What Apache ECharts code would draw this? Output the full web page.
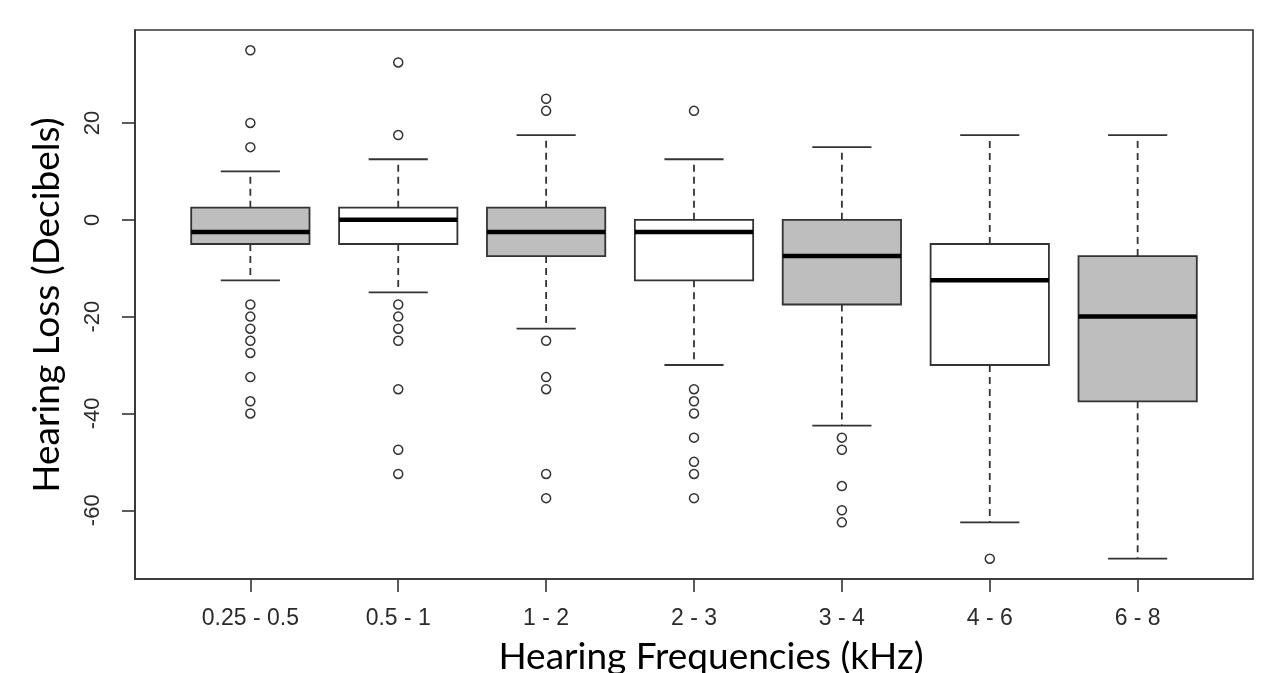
<!DOCTYPE html>
<html>
<head>
  <meta charset="utf-8">
  <script src="https://cdn.jsdelivr.net/npm/echarts@6/dist/echarts.min.js"></script>
  <style>
    html, body { margin: 0; padding: 0; background: #fff; }
  </style>
</head>
<body>
<div id="main" style="width:1263px;height:673px;"></div>
<script type="text/javascript">
// frequency bands on the x axis
var categories = ['0.25 - 0.5', '0.5 - 1', '1 - 2', '2 - 3', '3 - 4', '4 - 6', '6 - 8'];

// box statistics, one value per band
var lowerWhisker = [-12.5, -15, -22.5, -30, -42.5, -62.5, -70];
var lowerQuartile = [-5, -5, -7.5, -12.5, -17.5, -30, -37.5];
var medians = [-2.5, 0, -2.5, -2.5, -7.5, -12.5, -20];
var upperQuartile = [2.5, 2.5, 2.5, 0, 0, -5, -7.5];
var upperWhisker = [10, 12.5, 17.5, 12.5, 15, 17.5, 17.5];

// outliers per band
var outliers = [
  [35, 20, 15, -17.5, -20, -22.5, -25, -27.5, -32.5, -37.5, -40],
  [32.5, 17.5, -17.5, -20, -22.5, -25, -35, -47.5, -52.5],
  [25, 22.5, -25, -32.5, -35, -52.5, -57.5],
  [22.5, -35, -37.5, -40, -45, -50, -52.5, -57.5],
  [-45, -47.5, -55, -60, -62.5],
  [-70],
  []
];

var yTicks = [-60, -40, -20, 0, 20];
var xTicks = [0, 1, 2, 3, 4, 5, 6];

var boxData = [];
for (var i = 0; i < categories.length; i++) {
  boxData.push([i, lowerWhisker[i], lowerQuartile[i], medians[i], upperQuartile[i], upperWhisker[i]]);
}

var outlierData = [];
for (var i = 0; i < outliers.length; i++) {
  for (var j = 0; j < outliers[i].length; j++) {
    outlierData.push([i, outliers[i][j]]);
  }
}

var renderBox = function (params, api) {
  var idx = api.value(0);
  var lo = api.coord([idx, api.value(1)]);
  var q1 = api.coord([idx, api.value(2)]);
  var med = api.coord([idx, api.value(3)]);
  var q3 = api.coord([idx, api.value(4)]);
  var hi = api.coord([idx, api.value(5)]);
  var unit = api.size([1, 0])[0];
  var half = unit * 0.4;
  var cap = unit * 0.2;
  var cx = lo[0];
  var dark = '#333';
  var fill = idx % 2 === 0 ? '#bebebe' : '#ffffff';
  return {
    type: 'group',
    children: [
      { type: 'line', shape: { x1: cx, y1: q3[1], x2: cx, y2: hi[1] },
        style: { stroke: dark, lineWidth: 1.8, lineDash: [7, 5] } },
      { type: 'line', shape: { x1: cx, y1: q1[1], x2: cx, y2: lo[1] },
        style: { stroke: dark, lineWidth: 1.8, lineDash: [7, 5] } },
      { type: 'line', shape: { x1: cx - cap, y1: hi[1], x2: cx + cap, y2: hi[1] },
        style: { stroke: dark, lineWidth: 1.8 } },
      { type: 'line', shape: { x1: cx - cap, y1: lo[1], x2: cx + cap, y2: lo[1] },
        style: { stroke: dark, lineWidth: 1.8 } },
      { type: 'rect', shape: { x: cx - half, y: q3[1], width: half * 2, height: q1[1] - q3[1] },
        style: { fill: fill, stroke: dark, lineWidth: 1.8 } },
      { type: 'line', shape: { x1: cx - half, y1: med[1], x2: cx + half, y2: med[1] },
        style: { stroke: '#000', lineWidth: 4.5 } }
    ]
  };
};

var myChart = echarts.init(document.getElementById('main'));
myChart.setOption({
  animation: false,
  backgroundColor: '#fff',
  grid: {
    left: 135, right: 10, top: 30, bottom: 94,
    show: true, borderColor: '#333', borderWidth: 1.6
  },
  xAxis: {
    type: 'value',
    min: -0.78,
    max: 6.78,
    splitLine: { show: false },
    axisLine: { show: true, onZero: false, lineStyle: { color: '#333', width: 1.6 } },
    axisTick: { show: true, length: 13, customValues: xTicks, lineStyle: { color: '#333', width: 1.6 } },
    axisLabel: {
      customValues: xTicks,
      margin: 28,
      color: '#2b2b2b',
      fontSize: 23,
      fontFamily: 'Liberation Sans',
      formatter: function (v) { return categories[Math.round(v)]; }
    }
  },
  yAxis: {
    type: 'value',
    min: -74.2,
    max: 39.2,
    splitLine: { show: false },
    axisLine: { show: true, onZero: false, lineStyle: { color: '#333', width: 1.6 } },
    axisTick: { show: true, length: 13, customValues: yTicks, lineStyle: { color: '#333', width: 1.6 } },
    axisLabel: {
      customValues: yTicks,
      rotate: 90,
      margin: 31,
      color: '#2b2b2b',
      fontSize: 22,
      fontFamily: 'Liberation Sans'
    }
  },
  graphic: [
    {
      type: 'text', x: 711, y: 657,
      style: {
        text: 'Hearing Frequencies (kHz)', fill: '#000',
        font: '37px Lato', align: 'center', verticalAlign: 'middle'
      }
    },
    {
      type: 'text', x: 47, y: 305, rotation: Math.PI / 2,
      style: {
        text: 'Hearing Loss (Decibels)', fill: '#000',
        font: '37px Lato', align: 'center', verticalAlign: 'middle'
      }
    }
  ],
  series: [
    {
      type: 'custom',
      renderItem: renderBox,
      encode: { x: 0, y: [1, 2, 3, 4, 5] },
      data: boxData
    },
    {
      type: 'scatter',
      symbol: 'circle',
      symbolSize: 9,
      itemStyle: { color: '#fff', borderColor: '#333', borderWidth: 1.5, opacity: 1 },
      data: outlierData
    }
  ]
});
</script>
</body>
</html>
